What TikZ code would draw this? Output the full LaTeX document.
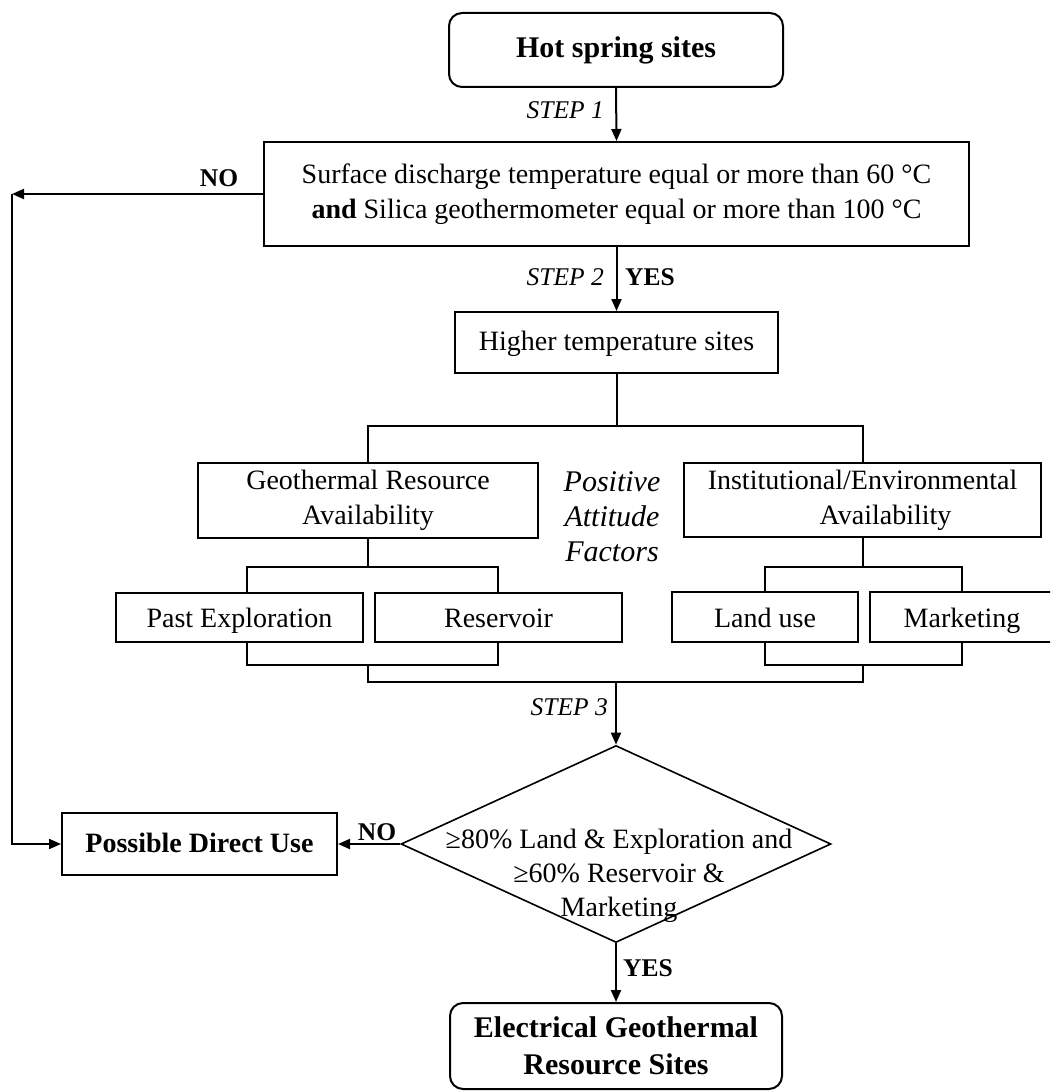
\documentclass[tikz,border=0pt]{standalone}
\usepackage{fontspec}
\setmainfont{Liberation Serif}
\usetikzlibrary{arrows.meta,shapes.geometric}

\begin{document}
\begin{tikzpicture}[x=1pt,y=-1pt,
  line/.style={line width=2pt},
  arr/.style={line width=2pt,-{Triangle[length=12pt,width=10pt]}},
  box/.style={draw,line width=2pt,inner sep=0pt,align=center,
    font=\fontsize{28}{35}\selectfont},
  oneline/.style={text height=20pt,text depth=0pt},
  boldbox/.style={box,font=\fontsize{28}{35}\selectfont\bfseries},
  endbox/.style={box,rounded corners=13pt,font=\fontsize{30}{37}\selectfont\bfseries},
  steplbl/.style={inner sep=0pt,font=\fontsize{25.5}{30}\selectfont\itshape},
  answer/.style={inner sep=0pt,font=\fontsize{25.5}{30}\selectfont\bfseries},
  note/.style={inner sep=0pt,align=center,font=\fontsize{30}{35}\selectfont\itshape}]

\useasboundingbox (0,0) rectangle (1050,1091);
\clip (0,0) rectangle (1050,1091);

% main column
\node[endbox,text height=21pt,text depth=6pt,minimum width=334pt,minimum height=74pt] (hot) at (616,50) {Hot spring sites};
\node[box,minimum width=705pt,minimum height=104pt] (cond) at (616.5,194)
  {Surface discharge temperature equal or more than 60 °C\\
   \textbf{and} Silica geothermometer equal or more than 100 °C};
\node[box,text height=21pt,text depth=6pt,minimum width=323pt,minimum height=61pt] (high) at (616.5,342.5) {Higher temperature sites};

% attitude factors
\node[box,minimum width=340pt,minimum height=75pt] (geo) at (368,500.5)
  {Geothermal Resource\\Availability};
\node[box,minimum width=357pt,minimum height=74pt] (inst) at (862.5,500)
  {Institutional/Environmental\\\hspace*{46pt}Availability};
\node[note] (factors) at (612,517) {Positive\\Attitude\\Factors};

\node[box,oneline,minimum width=247pt,minimum height=49pt] (past) at (239.5,617.5) {Past Exploration};
\node[box,oneline,minimum width=247pt,minimum height=49pt] (res) at (498.5,617.5) {Reservoir};
\node[box,oneline,minimum width=186pt,minimum height=50pt] (land) at (765,617) {Land use};
\node[box,oneline,minimum width=184pt,minimum height=50pt] (mkt) at (962,617) {Marketing};

% decision
\node[draw,diamond,line width=1.6pt,inner sep=0pt,minimum width=430pt,minimum height=197pt]
  (dia) at (616,844) {};
\node[inner sep=0pt,align=center,font=\fontsize{28}{34}\selectfont] (diatxt) at (619,876)
  {≥80\% Land \& Exploration and\\≥60\% Reservoir \&\\Marketing};

\node[boldbox,text height=21pt,text depth=5pt,minimum width=275pt,minimum height=62pt] (pdu) at (199.5,844) {Possible Direct Use};
\node[endbox,minimum width=332pt,minimum height=86pt] (elec) at (616,1046)
  {Electrical Geothermal\\Resource Sites};

% step 1 and 2
\draw[arr] (hot.south) -- (cond.north);
\node[steplbl,anchor=east] (s1) at (604,110) {STEP 1};
\draw[arr] (cond.south) -- (high.north);
\node[steplbl,anchor=east] (s2) at (604,277) {STEP 2};
\node[answer,anchor=west] (yes1) at (625,277) {YES};

% rejected sites go to direct use
\coordinate (loop) at (12,194);
\draw[arr] (cond.west) -- (loop);
\draw[arr] (loop) |- (pdu.west);
\node[answer] (no1) at (219,178) {NO};

% split into the two availability groups
\coordinate (split) at (616.5,426);
\draw[line] (high.south) -- (split);
\draw[line] (geo.north) |- (split) -| (inst.north);

% left group brackets
\coordinate (gsplit) at (368,567);
\coordinate (gl) at (247,567);
\coordinate (gr) at (498,567);
\coordinate (glb) at (247,665);
\coordinate (grb) at (498,665);
\draw[line] (geo.south) -- (gsplit);
\draw[line] (gl |- past.north) -- (gl) -- (gr) -- (gr |- res.north);
\draw[line] (gl |- past.south) -- (glb) -- (grb) -- (gr |- res.south);

% right group brackets
\coordinate (isplit) at (862.5,567);
\coordinate (il) at (765,567);
\coordinate (ir) at (962,567);
\coordinate (ilb) at (765,665);
\coordinate (irb) at (962,665);
\draw[line] (inst.south) -- (isplit);
\draw[line] (il |- land.north) -- (il) -- (ir) -- (ir |- mkt.north);
\draw[line] (il |- land.south) -- (ilb) -- (irb) -- (ir |- mkt.south);

% merge towards the decision
\coordinate (jl) at (368,665);
\coordinate (jr) at (862.5,665);
\coordinate (jll) at (368,682);
\coordinate (jrl) at (862.5,682);
\coordinate (join) at (616,682);
\draw[line] (jl) -- (jll) -- (jrl) -- (jr);
\draw[arr] (join) -- (dia.north);
\node[steplbl,anchor=east] (s3) at (608,707) {STEP 3};

% decision outcomes
\draw[arr] (dia.west) -- (pdu.east);
\node[answer] (no2) at (377,832) {NO};
\draw[arr] (dia.south) -- (elec.north);
\node[answer,anchor=west] (yes2) at (623,968) {YES};

\end{tikzpicture}
\end{document}
